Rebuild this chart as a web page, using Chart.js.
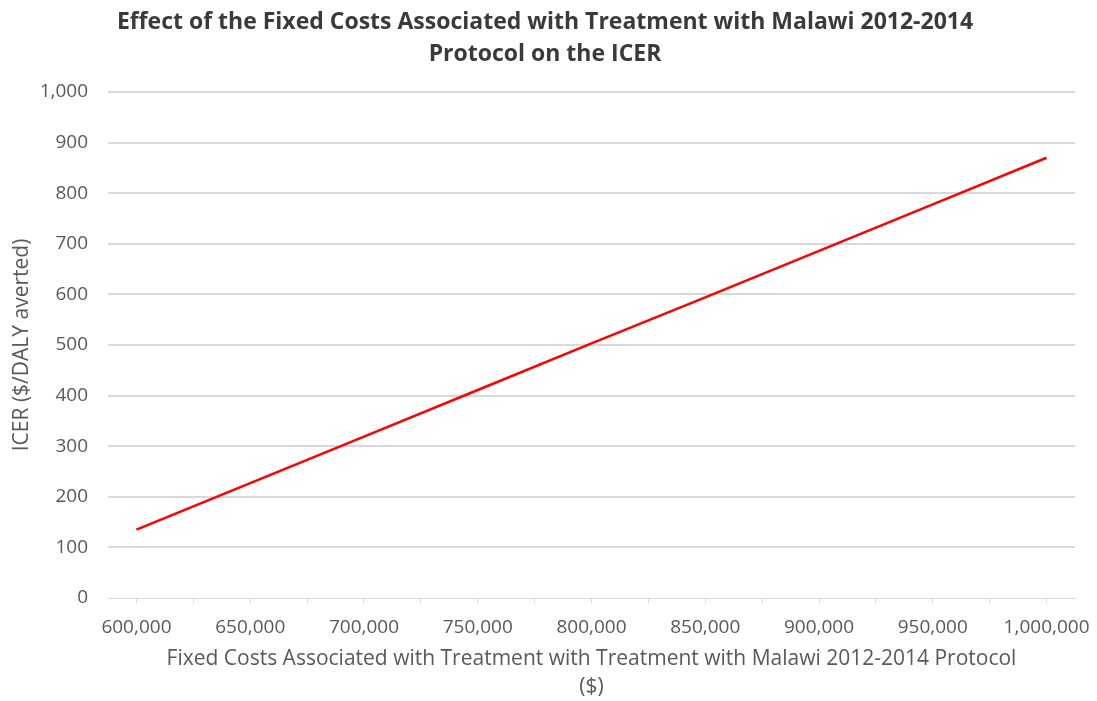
<!DOCTYPE html>
<html>
<head>
<meta charset="utf-8">
<script src="https://cdn.jsdelivr.net/npm/chart.js@4.4.0/dist/chart.umd.min.js"></script>
<style>
    html, body { margin: 0; padding: 0; background: #fff; }
    #wrap { width: 1097px; height: 701px; }
</style>
</head>
<body>
<div id="wrap"><canvas id="chart"></canvas></div>
<script>
// ICER vs fixed treatment cost (Malawi 2012-2014 protocol)
const fixedCosts = [600000, 650000, 700000, 750000, 800000, 850000, 900000, 950000, 1000000];
const icerValues = [135, 227, 319, 411, 503, 594, 686, 778, 870];
const chartTitle = ['Effect of the Fixed Costs Associated with Treatment with Malawi 2012-2014', 'Protocol on the ICER'];
const xTitle = ['Fixed Costs Associated with Treatment with Treatment with Malawi 2012-2014 Protocol', '($)'];
const yTitle = 'ICER ($/DALY averted)';

const FONT = "'Open Sans', 'Noto Sans', sans-serif";
const GRID = '#d9d9d9';
const TXT = '#595959';

new Chart(document.getElementById('chart'), {
    type: 'line',
    data: {
        datasets: [{
            data: fixedCosts.map((x, i) => ({ x, y: icerValues[i] })),
            borderColor: '#ff0000',
            borderWidth: 2.5,
            pointRadius: 0,
            tension: 0,
            fill: false,
        }]
    },
    options: {
        responsive: true, maintainAspectRatio: false,
        animation: false,
        layout: { padding: { left: 15, right: 22, top: 0, bottom: 0 } },
        plugins: {
            legend: { display: false },
            tooltip: { enabled: false },
            title: {
                display: true, text: chartTitle, color: '#3a3a3a',
                font: { family: FONT, size: 23, weight: 'bold', lineHeight: 1.39 },
                padding: { top: 6, bottom: 22 }
            }
        },
        scales: {
            x: {
                type: 'linear', min: 587500, max: 1012500,
                afterBuildTicks: s => {
                    const t = [];
                    for (let v = 600000; v <= 1000000; v += 25000) t.push({ value: v });
                    s.ticks = t;
                },
                ticks: {
                    color: TXT, font: { family: FONT, size: 19 }, maxRotation: 0, autoSkip: false,
                    padding: 13,
                    callback: v => v % 50000 === 0 ? v.toLocaleString('en-US') : ''
                },
                grid: { drawOnChartArea: false, drawTicks: true, tickLength: 5, color: GRID },
                border: { display: true, color: GRID, width: 1 },
                title: {
                    display: true, text: xTitle, color: TXT,
                    font: { family: FONT, size: 21, lineHeight: 1.33 },
                    padding: { top: 4, bottom: 0 }
                },
                afterFit: s => { s.height = 103; s.paddingLeft = 0; s.paddingRight = 0; }
            },
            y: {
                min: 0, max: 1000,
                ticks: {
                    stepSize: 100, color: TXT, font: { family: FONT, size: 19 }, padding: 20,
                    callback: v => v.toLocaleString('en-US')
                },
                grid: {
                    drawTicks: false,
                    color: c => c.tick && c.tick.value === 0 ? 'rgba(0,0,0,0)' : GRID,
                    lineWidth: 2
                },
                border: { display: false },
                title: {
                    display: true, text: yTitle, color: TXT,
                    font: { family: FONT, size: 21 },
                    padding: { top: -6, bottom: 8 }
                },
                afterFit: s => { s.width = 93; }
            }
        }
    }
});
</script>
</body>
</html>
